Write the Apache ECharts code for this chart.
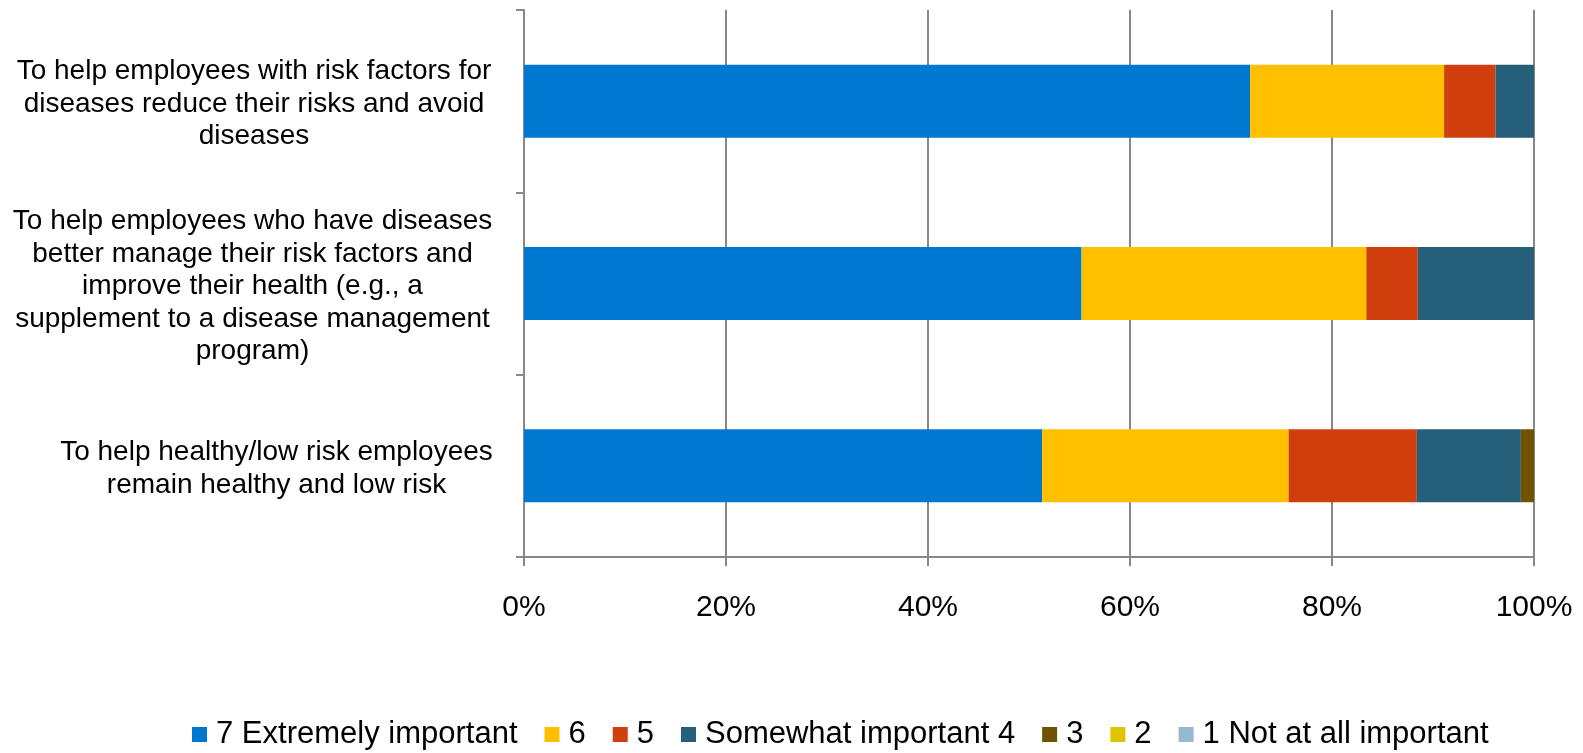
<!DOCTYPE html>
<html>
<head>
<meta charset="utf-8">
<script src="https://cdn.jsdelivr.net/npm/echarts@6/dist/echarts.min.js"></script>
<style>
  html, body { margin: 0; padding: 0; background: #fff; }
  #chart { width: 1583px; height: 753px; }
</style>
</head>
<body>
<div id="chart"></div>
<script>
// Purpose of wellness programs, share of responses by importance rating
const categories = [
  'To help employees with risk factors for\ndiseases reduce their risks and avoid\ndiseases',
  'To help employees who have diseases\nbetter manage their risk factors and\nimprove their health (e.g., a\nsupplement to a disease management\nprogram)',
  'To help healthy/low risk employees\nremain healthy and low risk'
];
const seriesNames = ['7 Extremely important', '6', '5', 'Somewhat important 4', '3', '2', '1 Not at all important'];
const rating7 = [71.9, 55.2, 51.3];
const rating6 = [19.2, 28.2, 24.4];
const rating5 = [5.1, 5.1, 12.7];
const rating4 = [3.8, 11.5, 10.3];
const rating3 = [0, 0, 1.3];
const rating2 = [0, 0, 0];
const rating1 = [0, 0, 0];
const xTicks = [0, 20, 40, 60, 80, 100];

const colors = ['#0078D2', '#FFC000', '#D03E0E', '#255F7A', '#705300', '#E0C400', '#93BAD0'];
const values = [rating7, rating6, rating5, rating4, rating3, rating2, rating1];
const FONT = '"Liberation Sans", Arial, sans-serif';
const GRID_COLOR = '#888888';

const chart = echarts.init(document.getElementById('chart'), null, { renderer: 'canvas' });

const labelStyle = { align: 'center', fontSize: 28, lineHeight: 32.5, color: '#000', fontFamily: FONT };

chart.setOption({
  animation: false,
  backgroundColor: '#ffffff',
  textStyle: { fontFamily: FONT },
  grid: { left: 524, right: 49, top: 10, bottom: 196, containLabel: false },
  legend: {
    left: 187,
    top: 714,
    itemWidth: 15,
    itemHeight: 15,
    itemGap: 27,
    icon: 'rect',
    textStyle: { fontSize: 31, color: '#000', fontFamily: FONT, padding: [0, 0, 0, 4] },
    data: seriesNames
  },
  xAxis: {
    type: 'value',
    min: xTicks[0],
    max: xTicks[xTicks.length - 1],
    interval: xTicks[1] - xTicks[0],
    axisLine: { show: true, lineStyle: { color: GRID_COLOR, width: 2 } },
    axisTick: { show: true, length: 9, lineStyle: { color: GRID_COLOR, width: 2 } },
    splitLine: { show: true, lineStyle: { color: GRID_COLOR, width: 2 } },
    axisLabel: {
      formatter: '{value}%',
      fontSize: 30,
      color: '#000',
      margin: 36,
      fontFamily: FONT
    }
  },
  yAxis: {
    type: 'category',
    inverse: true,
    data: categories,
    axisLine: { show: true, lineStyle: { color: GRID_COLOR, width: 2 } },
    axisTick: { show: true, length: 8, lineStyle: { color: GRID_COLOR, width: 2 } },
    axisLabel: {
      margin: 31,
      fontSize: 28,
      lineHeight: 32.5,
      color: '#000',
      fontFamily: FONT,
      align: 'right',
      padding: [6, 0, 0, 0],
      formatter: function (value, index) {
        return '{w' + index + '|' + value + '}';
      },
      rich: {
        w0: Object.assign({ width: 478 }, labelStyle),
        w1: Object.assign({ width: 481 }, labelStyle),
        w2: Object.assign({ width: 433 }, labelStyle)
      }
    }
  },
  series: seriesNames.map(function (name, i) {
    return {
      name: name,
      type: 'bar',
      stack: 'total',
      barCategoryGap: '60%',
      itemStyle: { color: colors[i] },
      data: values[i]
    };
  })
});
</script>
</body>
</html>
